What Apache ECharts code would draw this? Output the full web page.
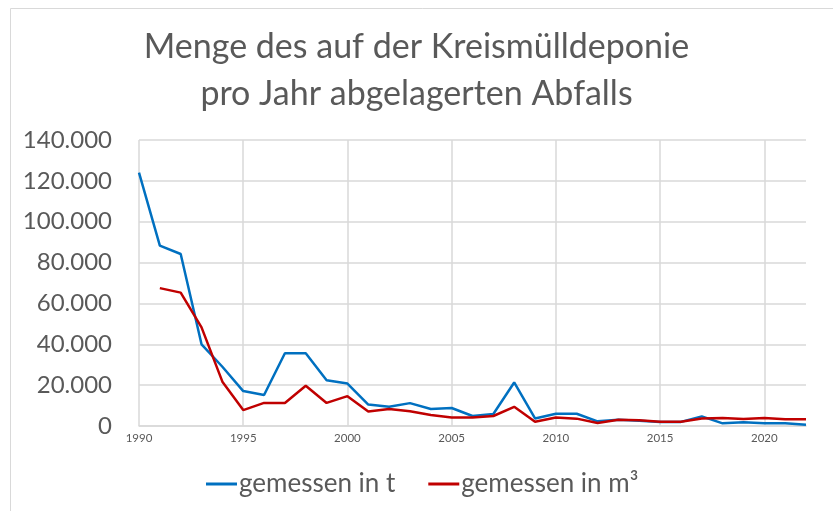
<!DOCTYPE html>
<html>
<head>
<meta charset="utf-8">
<script src="https://cdn.jsdelivr.net/npm/echarts@6/dist/echarts.min.js"></script>
<style>html,body{margin:0;padding:0;background:#fff}#c{width:833px;height:511px}</style>
</head>
<body>
<div id="c"></div>
<script>
const years = [1990,1991,1992,1993,1994,1995,1996,1997,1998,1999,2000,2001,2002,2003,2004,2005,2006,2007,2008,2009,2010,2011,2012,2013,2014,2015,2016,2017,2018,2019,2020,2021,2022];
const tonnen = [124000,88300,84200,40000,29000,17100,15200,35600,35600,22400,20800,10500,9400,11200,8300,8800,4900,5900,21300,3700,6000,6000,2300,3100,2600,2000,2000,4700,1300,1800,1300,1300,650];
const kubik = [null,67500,65300,48300,21700,7800,11300,11300,19700,11300,14600,7100,8300,7200,5400,4200,4200,4900,9400,2100,4200,3600,1500,3100,2800,2100,2100,3700,3900,3400,3900,3300,3300];
const seriesNames = ['gemessen in t','gemessen in m³'];
const titleText = 'Menge des auf der Kreismülldeponie\npro Jahr abgelagerten Abfalls';

const font = 'Lato, "Noto Sans", sans-serif';
const chart = echarts.init(document.getElementById('c'));
const fmt = v => v === 0 ? '0' : v.toString().replace(/\B(?=(\d{3})+(?!\d))/g, '.');
chart.setOption({
  animation: false,
  graphic: [{type:'rect', shape:{x:10.5,y:8.5,width:900,height:600}, style:{fill:null, stroke:'#d9d9d9', lineWidth:1}, silent:true}],
  title: {text: titleText, left: 'center', top: 19, textStyle:{fontFamily: font, fontSize: 34, fontWeight:'normal', color:'#595959', lineHeight: 47}},
  legend: {bottom: 9, left: 201, itemWidth: 31, itemHeight: 3, itemGap: 33, icon: 'rect',
    textStyle:{fontFamily: font, fontSize: 26, color:'#595959', padding:[0,0,0,-3]},
    data: seriesNames},
  grid: {left: 139, right: 27, top: 140, bottom: 85},
  xAxis: {type:'value', min:1990, max:2022, interval:5,
    axisLine:{show:true, lineStyle:{color:'#d9d9d9', width:1.5}}, axisTick:{show:false},
    axisLabel:{fontFamily: font, fontSize: 11.5, color:'#595959', margin: 6, showMaxLabel:false, formatter: v => String(v)},
    splitLine:{show:true, showMaxLine:false, lineStyle:{color:'#d9d9d9', width:1.5}}},
  yAxis: {type:'value', min:0, max:140000, interval:20000,
    axisLine:{show:false}, axisTick:{show:false},
    axisLabel:{fontFamily: font, fontSize: 24, color:'#595959', margin: 27, formatter: fmt},
    splitLine:{lineStyle:{color:'#d9d9d9', width:1.5}}},
  series: [
    {name: seriesNames[0], type:'line', data: years.map((y,i)=>[y,tonnen[i]]), showSymbol:false, lineStyle:{color:'#0070c0', width:2.5}, itemStyle:{color:'#0070c0'}},
    {name: seriesNames[1], type:'line', data: years.map((y,i)=>[y,kubik[i]]), showSymbol:false, lineStyle:{color:'#c00000', width:2.5}, itemStyle:{color:'#c00000'}}
  ]
});
</script>
</body>
</html>
